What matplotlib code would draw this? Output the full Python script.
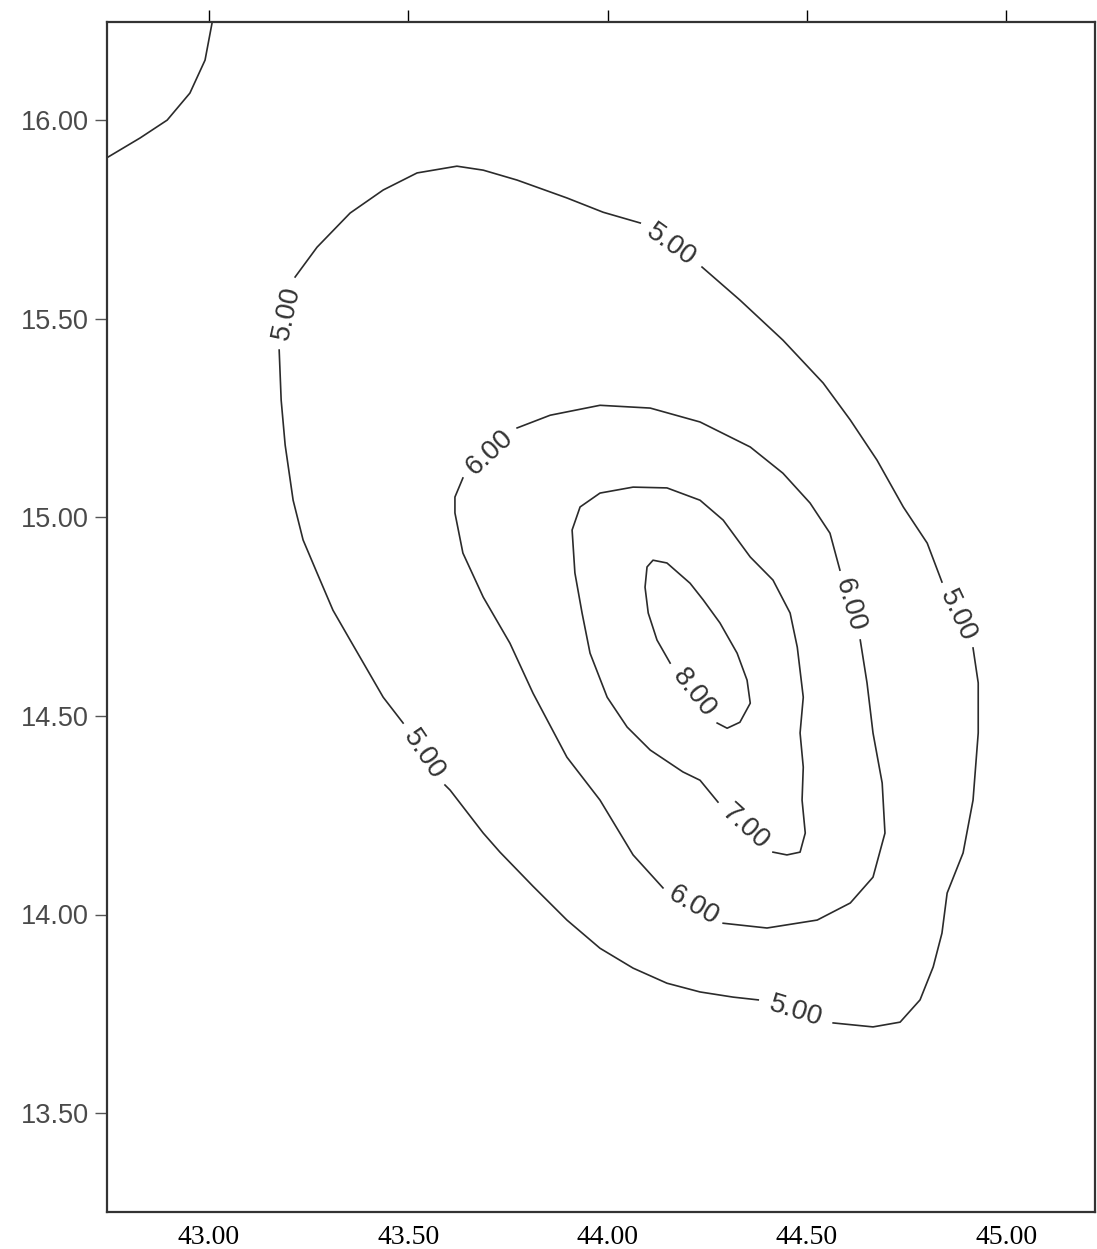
import numpy as np
import matplotlib
matplotlib.use("Agg")
import matplotlib.pyplot as plt

# оси
x_ticks = [43.0, 43.5, 44.0, 44.5, 45.0]
y_ticks = [13.5, 14.0, 14.5, 15.0, 15.5, 16.0]
x_range = (42.744, 45.223)
y_range = (13.251, 16.247)

# изолиния в левом верхнем углу (без подписи)
corner_line = [(43.009, 16.252), (42.990, 16.151), (42.952, 16.068), (42.895, 16.000),
               (42.827, 15.955), (42.740, 15.903)]

# изолиния 5.00 - куски между подписями
c5_a = [(43.216, 15.605), (43.271, 15.680), (43.354, 15.766), (43.437, 15.824), (43.522, 15.867),
        (43.622, 15.884), (43.688, 15.874), (43.773, 15.849), (43.898, 15.804), (43.989, 15.768),
        (44.082, 15.741)]
c5_b = [(44.237, 15.630), (44.332, 15.547), (44.440, 15.446), (44.541, 15.338), (44.609, 15.245),
        (44.676, 15.144), (44.742, 15.026), (44.802, 14.935), (44.839, 14.837)]
c5_c = [(44.917, 14.671), (44.930, 14.583), (44.930, 14.457), (44.917, 14.288), (44.892, 14.155),
        (44.852, 14.054), (44.839, 13.953), (44.817, 13.868), (44.784, 13.785), (44.734, 13.729),
        (44.666, 13.717), (44.566, 13.727)]
c5_d = [(44.378, 13.785), (44.315, 13.792), (44.232, 13.805), (44.149, 13.827), (44.064, 13.865),
        (43.981, 13.915), (43.898, 13.986), (43.813, 14.071), (43.730, 14.157), (43.688, 14.205),
        (43.605, 14.313), (43.592, 14.326)]
c5_e = [(43.487, 14.482), (43.437, 14.547), (43.354, 14.691), (43.311, 14.766), (43.271, 14.860),
        (43.236, 14.943), (43.211, 15.043), (43.191, 15.182), (43.181, 15.295), (43.176, 15.421)]

# изолиния 6.00
c6_a = [(43.773, 15.225), (43.856, 15.257), (43.981, 15.282), (44.107, 15.275), (44.232, 15.240),
        (44.358, 15.177), (44.440, 15.111), (44.508, 15.036), (44.558, 14.960), (44.583, 14.867)]
c6_b = [(44.634, 14.691), (44.651, 14.583), (44.666, 14.457), (44.689, 14.331), (44.696, 14.205),
        (44.666, 14.094), (44.609, 14.029), (44.526, 13.986), (44.400, 13.966), (44.290, 13.978)]
c6_c = [(44.139, 14.067), (44.064, 14.150), (43.981, 14.288), (43.898, 14.396), (43.813, 14.557),
        (43.755, 14.683), (43.688, 14.799), (43.637, 14.910), (43.617, 15.011), (43.617, 15.051),
        (43.637, 15.099)]

# изолиния 7.00
c7 = [(44.415, 14.157), (44.450, 14.150), (44.483, 14.157), (44.496, 14.205), (44.488, 14.288),
      (44.491, 14.371), (44.483, 14.457), (44.491, 14.547), (44.476, 14.673), (44.458, 14.759),
      (44.415, 14.842), (44.358, 14.900), (44.290, 14.993), (44.232, 15.043), (44.149, 15.074),
      (44.064, 15.076), (43.981, 15.061), (43.931, 15.026), (43.911, 14.968), (43.918, 14.860),
      (43.936, 14.759), (43.956, 14.658), (43.999, 14.547), (44.049, 14.472), (44.107, 14.414),
      (44.189, 14.359), (44.232, 14.338), (44.277, 14.283)]

# изолиния 8.00
c8 = [(44.275, 14.482), (44.300, 14.469), (44.332, 14.484), (44.358, 14.532), (44.350, 14.590),
      (44.325, 14.658), (44.282, 14.734), (44.240, 14.792), (44.207, 14.834), (44.149, 14.885),
      (44.114, 14.892), (44.099, 14.875), (44.094, 14.824), (44.102, 14.759), (44.124, 14.691),
      (44.157, 14.633)]

# замкнутые изолинии: уровень и куски (подпись стоит в каждом разрыве)
contours = [
    (5.0, [c5_a, c5_b, c5_c, c5_d, c5_e]),
    (6.0, [c6_a, c6_b, c6_c]),
    (7.0, [c7]),
    (8.0, [c8]),
]

line_color = "#2b2b2b"

fig = plt.figure(figsize=(10.97, 12.49), dpi=100)
ax = fig.add_axes([107 / 1097, 37 / 1249, (1095 - 107) / 1097, (1212 - 22) / 1249])
ax.set_xlim(*x_range)
ax.set_ylim(*y_range)

ax.plot([p[0] for p in corner_line], [p[1] for p in corner_line], color=line_color, lw=1.2,
        solid_joinstyle="round")

for level, segments in contours:
    for seg in segments:
        ax.plot([p[0] for p in seg], [p[1] for p in seg], color=line_color, lw=1.2,
                solid_joinstyle="round")
    # подписи в разрывах между кусками
    n = len(segments)
    for i in range(n):
        p_end = segments[i][-1]
        p_start = segments[(i + 1) % n][0]
        d1 = ax.transData.transform(p_end)
        d2 = ax.transData.transform(p_start)
        ang = np.degrees(np.arctan2(d2[1] - d1[1], d2[0] - d1[0]))
        if ang > 90:
            ang -= 180
        elif ang < -90:
            ang += 180
        mx = (p_end[0] + p_start[0]) / 2
        my = (p_end[1] + p_start[1]) / 2
        ax.text(mx, my, f"{level:.2f}", rotation=ang, rotation_mode="anchor",
                ha="center", va="center", fontsize=20, color="#333333",
                family="Liberation Sans")

# рамка и подписи осей
for s in ax.spines.values():
    s.set_linewidth(1.6)
    s.set_color("#333333")

ax.set_xticks(x_ticks)
ax.set_xticklabels([f"{v:.2f}" for v in x_ticks], family="Liberation Serif", fontsize=20, color="black")
ax.tick_params(axis="x", which="both", bottom=True, top=True, labelbottom=True, labeltop=False,
               direction="out", length=0, pad=9)
for t in ax.xaxis.get_major_ticks():
    t.tick2line.set_markersize(9)
    t.tick2line.set_markeredgewidth(1.0)
    t.tick2line.set_color("#555555")

ax.set_yticks(y_ticks)
ax.set_yticklabels([f"{v:.2f}" for v in y_ticks], family="Liberation Sans", fontsize=19.5, color="#4a4a4a")
ax.tick_params(axis="y", direction="out", length=9, width=1.0, color="#555555", pad=4)

fig.savefig("out.png", dpi=100, facecolor="white")
